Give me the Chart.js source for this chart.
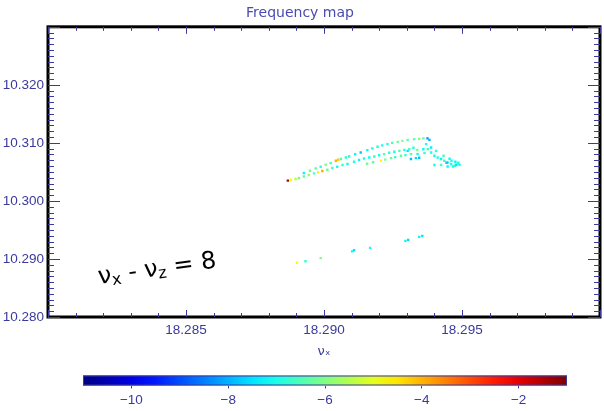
<!DOCTYPE html>
<html>
<head>
<meta charset="utf-8">
<script src="https://cdn.jsdelivr.net/npm/chart.js@4.4.0/dist/chart.umd.min.js"></script>
<style>
  body { margin: 0; background: #fff; }
  #wrap { position: relative; width: 604px; height: 411px; }
  #mappa { position: absolute; left: 0; top: 0; }
  #barra { position: absolute; left: 0; top: 355px; }
</style>
</head>
<body>
<div id="wrap">
  <canvas id="mappa" width="604" height="411"></canvas>
  <canvas id="barra" width="604" height="56"></canvas>
</div>
<script>
// tune orizzontale (nu_x), una riga per ramo della mappa
var nuX = [
  18.28869, 18.28880, 18.28927, 18.28949, 18.28970, 18.28988, 18.29006, 18.29024, 18.29043, 18.29051,
  18.29061, 18.29079, 18.29091, 18.29113, 18.29133, 18.29157, 18.29175, 18.29194, 18.29211, 18.29230,
  18.29247, 18.29267, 18.29284, 18.29303, 18.29327, 18.29345, 18.29360, 18.29375, 18.29382,
  18.28897, 18.28909, 18.28927, 18.28945, 18.28964, 18.28979, 18.28994, 18.29012, 18.29030, 18.29048,
  18.29067, 18.29085, 18.29109, 18.29127, 18.29145, 18.29164, 18.29182, 18.29200, 18.29218, 18.29236,
  18.29255, 18.29273, 18.29291, 18.29309, 18.29324,
  18.29156, 18.29178, 18.29206, 18.29222, 18.29243, 18.29258, 18.29279, 18.29295, 18.29315, 18.29339,
  18.29364, 18.29388,
  18.29303, 18.29338, 18.29360, 18.29376, 18.29370, 18.29388, 18.29406, 18.29400, 18.29412, 18.29424,
  18.29436, 18.29448, 18.29461, 18.29473, 18.29484, 18.29315, 18.29333, 18.29345, 18.29400, 18.29424,
  18.29448, 18.29467, 18.29479, 18.29487, 18.29455, 18.29433, 18.29444, 18.29462, 18.29476, 18.29491,
  18.28902, 18.28933, 18.28988, 18.29102, 18.29109, 18.29167, 18.29295, 18.29305, 18.29345, 18.29356
];
// tune verticale (nu_z)
var nuZ = [
  10.30349, 10.30366, 10.30481, 10.30520, 10.30560, 10.30589, 10.30623, 10.30652, 10.30692, 10.30709,
  10.30721, 10.30748, 10.30765, 10.30803, 10.30834, 10.30875, 10.30906, 10.30932, 10.30957, 10.30978,
  10.31000, 10.31017, 10.31034, 10.31052, 10.31064, 10.31069, 10.31077, 10.31077, 10.31052,
  10.30378, 10.30395, 10.30422, 10.30446, 10.30474, 10.30491, 10.30515, 10.30537, 10.30566, 10.30589,
  10.30618, 10.30635, 10.30674, 10.30704, 10.30731, 10.30748, 10.30765, 10.30786, 10.30806, 10.30829,
  10.30846, 10.30863, 10.30880, 10.30889, 10.30915,
  10.30640, 10.30666, 10.30692, 10.30712, 10.30738, 10.30755, 10.30777, 10.30789, 10.30806, 10.30806,
  10.30824, 10.30834,
  10.30863, 10.30880, 10.30889, 10.30892, 10.30978, 10.30920, 10.30863, 10.30777, 10.30748, 10.30721,
  10.30692, 10.30662, 10.30635, 10.30606, 10.30640, 10.30721, 10.30738, 10.30743, 10.30618, 10.30618,
  10.30594, 10.30594, 10.30618, 10.30657, 10.30726, 10.30777, 10.30657, 10.30692, 10.30674, 10.30623,
  10.28934, 10.28960, 10.29015, 10.29131, 10.29149, 10.29191, 10.29311, 10.29329, 10.29380, 10.29397
];
// indice di diffusione (log10)
var diffusione = [
  -1.5, -4.8, -7.3, -6.2, -6.5, -6.8, -6.0, -6.6, -4.0, -4.2,
  -6.5, -6.8, -7.0, -7.3, -7.8, -7.3, -7.2, -7.0, -7.1, -6.9,
  -6.6, -6.2, -6.0, -6.3, -6.4, -6.0, -6.2, -8.3, -8.0,
  -5.5, -6.0, -6.3, -5.8, -6.5, -4.6, -3.9, -6.2, -6.6, -7.0,
  -6.8, -7.2, -7.0, -7.3, -6.9, -7.2, -6.7, -7.0, -6.5, -6.8,
  -7.1, -6.5, -7.0, -6.6, -6.9,
  -6.2, -6.5, -4.7, -6.0, -6.3, -6.7, -6.4, -6.8, -6.5, -7.2,
  -6.7, -7.0,
  -7.5, -6.0, -7.3, -6.6, -7.0, -7.4, -6.8, -7.2, -6.9, -7.3,
  -6.7, -7.2, -7.0, -6.8, -6.5, -7.9, -7.6, -7.8, -7.1, -6.6,
  -7.3, -7.0, -7.5, -6.9, -7.2, -6.6, -7.8, -7.0, -7.3, -7.1,
  -4.7, -6.8, -6.0, -7.3, -7.5, -7.2, -7.3, -7.6, -7.3, -7.5
];

var xRange = [18.280, 18.300];
var yRange = [10.280, 10.330];
var xTicks = [18.285, 18.290, 18.295];
var yTicks = [10.280, 10.290, 10.300, 10.310, 10.320];
var barRange = [-11, -1];
var barTicks = [-10, -8, -6, -4, -2];

var blu = '#3a3a9c';
var fontTick = { family: "'Liberation Sans', Arial, sans-serif", size: 13.5 };

function clamp(v) { return Math.max(0, Math.min(1, v)); }
function jet(v) {
  var t = (v - barRange[0]) / (barRange[1] - barRange[0]);
  var r = clamp(1.5 - Math.abs(4 * t - 3));
  var g = clamp(1.5 - Math.abs(4 * t - 2));
  var b = clamp(1.5 - Math.abs(4 * t - 1));
  return 'rgb(' + Math.round(r * 255) + ',' + Math.round(g * 255) + ',' + Math.round(b * 255) + ')';
}

var punti = nuX.map(function (x, i) { return { x: x, y: nuZ[i] }; });
var colori = diffusione.map(jet);

// cornice e tacche stile IDL, verso l'interno
var assiIDL = {
  id: 'assiIDL',
  afterDraw: function (chart) {
    var ctx = chart.ctx, ca = chart.chartArea;
    var sx = chart.scales.x, sy = chart.scales.y;
    ctx.save();
    ctx.strokeStyle = '#000';
    ctx.lineWidth = 3;
    ctx.strokeRect(ca.left, ca.top, ca.right - ca.left, ca.bottom - ca.top);
    ctx.strokeStyle = blu;
    ctx.lineWidth = 1;
    ctx.beginPath();
    var k, px, len;
    for (k = 0; k <= 20; k++) {
      px = Math.round(sx.getPixelForValue(xRange[0] + k * 0.001)) + 0.5;
      len = (k % 5 === 0) ? 7 : 4;
      ctx.moveTo(px, ca.bottom); ctx.lineTo(px, ca.bottom - len);
      ctx.moveTo(px, ca.top); ctx.lineTo(px, ca.top + len);
    }
    for (k = 0; k <= 50; k++) {
      px = Math.round(sy.getPixelForValue(yRange[0] + k * 0.001)) + 0.5;
      len = (k % 10 === 0) ? 12 : 6;
      ctx.moveTo(ca.left, px); ctx.lineTo(ca.left + len, px);
      ctx.moveTo(ca.right, px); ctx.lineTo(ca.right - len, px);
    }
    ctx.stroke();
    ctx.restore();
  }
};

// scritta della risonanza
var risonanza = {
  id: 'risonanza',
  afterDatasetsDraw: function (chart) {
    var ctx = chart.ctx;
    var pezzi = [['ν', 24, 0], ['x', 16, 3], [' - ', 24, 0], ['ν', 24, 0], ['z', 16, 3], [' = 8', 24, 0]];
    ctx.save();
    ctx.translate(99, 284);
    ctx.rotate(-8 * Math.PI / 180);
    ctx.fillStyle = '#000';
    ctx.textBaseline = 'alphabetic';
    var x = 0;
    pezzi.forEach(function (p) {
      ctx.font = p[1] + 'px "DejaVu Sans"';
      ctx.fillText(p[0], x, p[2]);
      x += ctx.measureText(p[0]).width;
    });
    ctx.restore();
  }
};

var grafico = new Chart(document.getElementById('mappa'), {
  type: 'scatter',
  data: {
    datasets: [{
      data: punti,
      pointBackgroundColor: colori,
      pointBorderWidth: 0,
      pointStyle: 'rect',
      pointRadius: 1.7
    }]
  },
  options: {
    responsive: false,
    animation: false,
    layout: { padding: { right: 4, bottom: 52 } },
    plugins: {
      legend: { display: false },
      tooltip: { enabled: false },
      title: {
        display: true,
        text: 'Frequency map',
        color: '#4a4ab4',
        font: { family: 'DejaVu Sans', size: 14, weight: 'normal' },
        padding: { top: 5, bottom: 5 }
      }
    },
    scales: {
      x: {
        type: 'linear',
        min: xRange[0],
        max: xRange[1],
        afterBuildTicks: function (s) { s.ticks = xTicks.map(function (v) { return { value: v }; }); },
        afterFit: function (s) { s.height = 42; },
        ticks: {
          callback: function (v) { return v.toFixed(3); },
          color: blu, font: fontTick, padding: 5, maxRotation: 0
        },
        grid: { display: false, drawTicks: false },
        border: { display: false },
        title: {
          display: true, text: 'νₓ', color: blu,
          font: { family: 'DejaVu Sans', size: 13 }, padding: { top: 0, bottom: 0 }
        }
      },
      y: {
        type: 'linear',
        min: yRange[0],
        max: yRange[1],
        afterBuildTicks: function (s) { s.ticks = yTicks.map(function (v) { return { value: v }; }); },
        afterFit: function (s) { s.width = 48; },
        ticks: {
          callback: function (v) { return v.toFixed(3); },
          color: blu, font: fontTick, padding: 4
        },
        grid: { display: false, drawTicks: false },
        border: { display: false }
      }
    }
  },
  plugins: [assiIDL, risonanza]
});

// barra colori
var sfumatura = {
  id: 'sfumatura',
  beforeDatasetsDraw: function (chart) {
    var ctx = chart.ctx, ca = chart.chartArea;
    var g = ctx.createLinearGradient(ca.left, 0, ca.right, 0);
    for (var i = 0; i <= 20; i++) {
      g.addColorStop(i / 20, jet(barRange[0] + (barRange[1] - barRange[0]) * i / 20));
    }
    ctx.save();
    ctx.fillStyle = g;
    ctx.fillRect(ca.left, ca.top, ca.right - ca.left, ca.bottom - ca.top);
    ctx.strokeStyle = blu;
    ctx.lineWidth = 1;
    ctx.strokeRect(ca.left + 0.5, ca.top + 0.5, ca.right - ca.left - 1, ca.bottom - ca.top - 1);
    ctx.restore();
  }
};

var barra = new Chart(document.getElementById('barra'), {
  type: 'scatter',
  data: { datasets: [{ data: [] }] },
  options: {
    responsive: false,
    animation: false,
    layout: { padding: { left: 83, right: 37, top: 20.5 } },
    plugins: { legend: { display: false }, tooltip: { enabled: false } },
    scales: {
      x: {
        type: 'linear',
        min: barRange[0],
        max: barRange[1],
        afterBuildTicks: function (s) { s.ticks = barTicks.map(function (v) { return { value: v }; }); },
        afterFit: function (s) { s.height = 25.5; },
        ticks: {
          callback: function (v) { return String(v).replace('-', '\u2212'); },
          color: blu, font: fontTick, padding: 4, maxRotation: 0
        },
        grid: { display: true, drawOnChartArea: false, tickLength: 3, color: blu },
        border: { display: false }
      },
      y: { display: false, min: 0, max: 1 }
    }
  },
  plugins: [sfumatura]
});
</script>
</body>
</html>
